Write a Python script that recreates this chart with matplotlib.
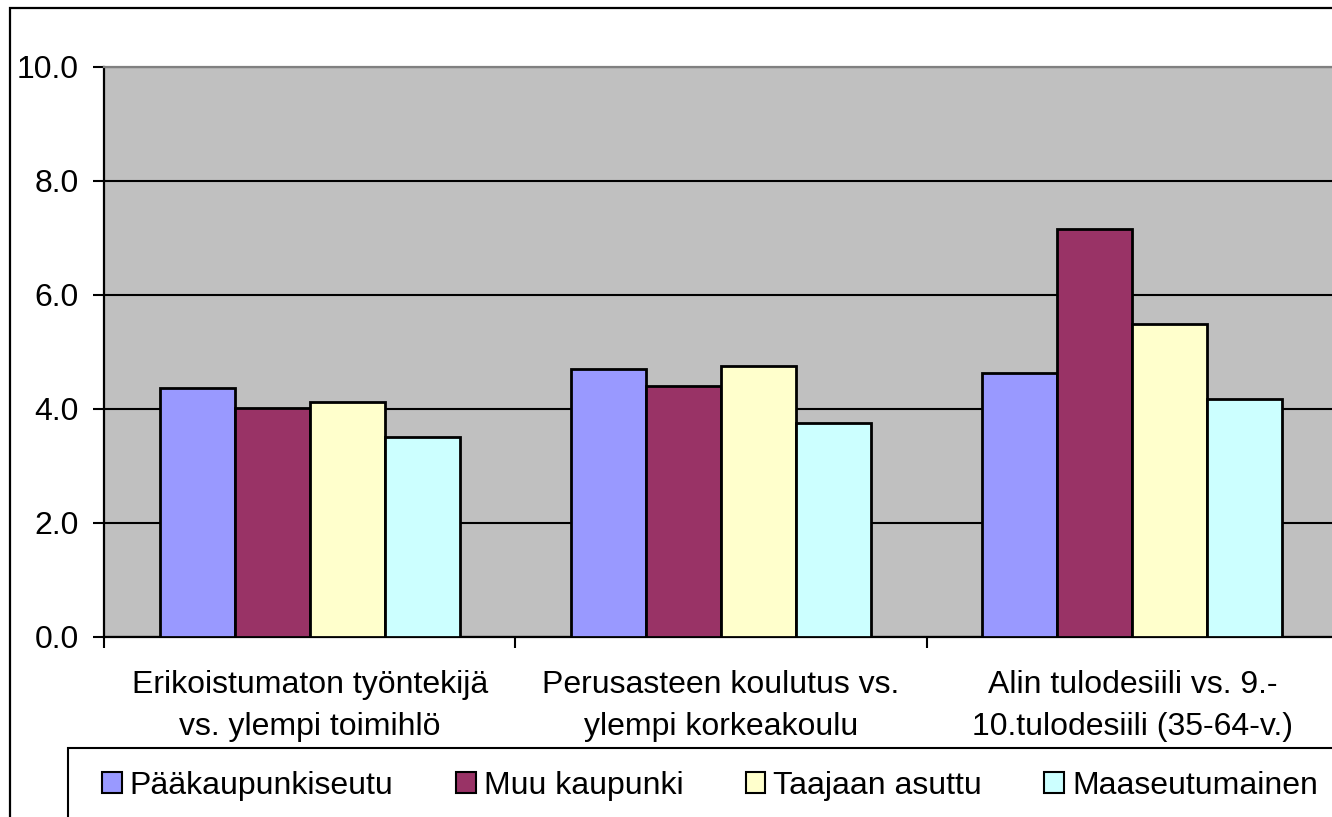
import matplotlib.pyplot as plt
from matplotlib.patches import Rectangle, Patch
import numpy as np

plt.rcParams['font.family'] = ['Liberation Sans', 'DejaVu Sans']

categories = ["Erikoistumaton työntekijä\nvs. ylempi toimihlö",
              "Perusasteen koulutus vs.\nylempi korkeakoulu",
              "Alin tulodesiili vs. 9.-\n10.tulodesiili (35-64-v.)"]
series = ["Pääkaupunkiseutu", "Muu kaupunki", "Taajaan asuttu", "Maaseutumainen"]
paakaupunki = [4.36, 4.71, 4.63]
muu_kaupunki = [4.01, 4.40, 7.15]
taajaan = [4.13, 4.75, 5.49]
maaseutu = [3.51, 3.75, 4.18]
colors = ["#9999FF", "#993366", "#FFFFCC", "#CCFFFF"]
yticks = [0, 2, 4, 6, 8, 10]

W, H = 1332, 817
FS = 23
fig = plt.figure(figsize=(W / 100, H / 100), dpi=100)
fig.patch.set_facecolor("white")

# outer chart border (runs past the right/bottom edges like the source)
fig.patches.append(Rectangle((10 / W, 1 - 1000 / H), 1400 / W, (1000 - 8) / H,
                             transform=fig.transFigure, fill=False,
                             edgecolor="black", linewidth=1.6))

ax = fig.add_axes([104 / W, 1 - 637 / H, (1338 - 104) / W, (637 - 67) / H])
ax.set_facecolor("#C0C0C0")

x = np.arange(len(categories))
w = 0.1823
for i, (vals, c) in enumerate(zip([paakaupunki, muu_kaupunki, taajaan, maaseutu], colors)):
    ax.bar(x + (i - 1.5) * w, vals, w, color=c, edgecolor="black",
           linewidth=2.0, zorder=3, label=series[i])

ax.set_xlim(-0.5, 2.5)
ax.set_ylim(0, 10)
ax.set_yticks(yticks)
ax.set_yticklabels([f"{v:.1f}" for v in yticks], fontsize=FS)
ax.yaxis.grid(True, color="black", linewidth=1.5, zorder=1)
ax.set_axisbelow(True)

ax.set_xticks(x)
ax.set_xticklabels(categories, fontsize=FS, linespacing=1.5)
ax.set_xticks(np.arange(-0.5, 3.0, 1.0), minor=True)
ax.tick_params(axis="x", which="major", length=0, pad=24)
ax.tick_params(axis="x", which="minor", length=8, width=1.5, direction="out")
ax.tick_params(axis="y", length=8, width=1.5, direction="out", pad=10)

for s in ["left", "bottom"]:
    ax.spines[s].set_color("black")
    ax.spines[s].set_linewidth(1.6)
ax.spines["top"].set_color("#808080")
ax.spines["top"].set_linewidth(1.6)
ax.spines["right"].set_visible(False)

# legend frame
fig.patches.append(Rectangle((68 / W, 1 - 1000 / H), 1400 / W, (1000 - 748) / H,
                             transform=fig.transFigure, fill=False,
                             edgecolor="black", linewidth=1.5))
handles = [Patch(facecolor=c, edgecolor="black", linewidth=1.5) for c in colors]
fig.legend(handles, series, ncol=4, loc="center left",
           bbox_to_anchor=(102 / W, 1 - 786 / H), frameon=False, fontsize=FS,
           borderpad=0, borderaxespad=0, handlelength=0.62, handleheight=0.62,
           handletextpad=0.25, columnspacing=1.95)

fig.savefig("out.png", dpi=100)
